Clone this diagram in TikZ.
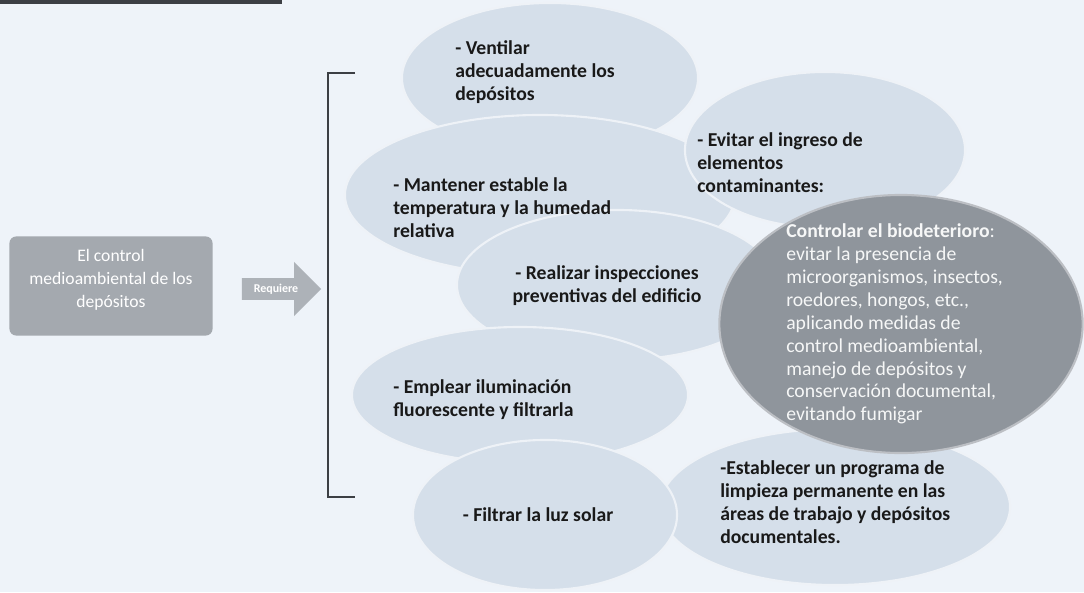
\documentclass[tikz,border=0pt]{standalone}
\usepackage{fontspec}
\setmainfont{Carlito}
\usepackage{tikz}
\usetikzlibrary{shapes.geometric,shapes.arrows,arrows.meta,positioning}
\definecolor{paperbg}{HTML}{EEF3F9}
\definecolor{blobfill}{HTML}{D5DFEA}
\definecolor{bioblob}{HTML}{8F959C}
\definecolor{srcgray}{HTML}{A4A9AF}
\definecolor{reqgray}{HTML}{ADB2B8}
\definecolor{bracketgray}{HTML}{3C3F44}

\begin{document}
\begin{tikzpicture}[
  x=0.025cm, y=-0.025cm,
  every node/.style={font=\fontsize{14}{16.3}\selectfont},
  blob/.style={ellipse, fill=blobfill, draw=white!60!blobfill, line width=1.5pt, inner sep=0pt},
  darkblob/.style={ellipse, fill=bioblob, draw=white!40!bioblob, line width=1.5pt, inner sep=0pt},
  txt/.style={anchor=west, align=left, inner sep=0pt, text=black!90, font=\fontsize{14}{16.3}\selectfont\bfseries},
  srcbox/.style={rectangle, rounded corners=5pt, fill=srcgray, minimum width=5.08cm, minimum height=2.48cm},
  srctxt/.style={text=white, align=center, inner sep=0pt, font=\fontsize{12.5}{16.3}\selectfont},
  reqarrow/.style={single arrow, fill=reqgray, text=white, inner sep=2pt, minimum height=1.98cm, minimum width=1.35cm, single arrow head extend=0.3cm, font=\fontsize{8.5}{9}\selectfont\bfseries},
]
\useasboundingbox[fill=paperbg] (0,0) rectangle (1084,592);

% top edge of the page header
\fill[bracketgray] (0,0) rectangle (282,4);

\node[srcbox] (control) at (111,286) {};
\node[srctxt] (tcontrol) at (111,280) {El control\\medioambiental de los\\depósitos};
\node[reqarrow] (requiere) at (276,289) {Requiere};

% bracket
\draw[bracketgray, line width=1.5pt] (355,73) -- (328,73) -- (328,497) -- (355,497);

% ellipses, back to front
\node[blob, minimum width=7.4cm, minimum height=3.75cm] (ventilar) at (550,78) {};
\node[blob, minimum width=9.75cm, minimum height=4.0cm] (mantener) at (540,195) {};
\node[blob, minimum width=7.0cm, minimum height=3.9cm] (evitar) at (825,150) {};
\node[blob, minimum width=8.0cm, minimum height=3.75cm] (realizar) at (617,285) {};
\node[blob, minimum width=8.4cm, minimum height=3.4cm] (emplear) at (520,395) {};
\node[blob, minimum width=8.75cm, minimum height=3.9cm] (establecer) at (835,507) {};
\node[blob, minimum width=6.6cm, minimum height=3.75cm] (filtrar) at (545,515) {};
\node[darkblob, minimum width=9.08cm, minimum height=6.45cm] (bio) at (901,324) {};

% texts
\node[txt] (tventilar) at (455,72) {- Ventilar\\adecuadamente los\\depósitos};
\node[txt] (tevitar) at (697,163) {- Evitar el ingreso de\\elementos\\contaminantes:};
\node[txt] (tmantener) at (393,208) {- Mantener estable la\\temperatura y la humedad\\relativa};
\node[txt, anchor=center, align=center] (trealizar) at (607,286) {- Realizar inspecciones\\preventivas del edificio};
\node[txt] (templear) at (393,400) {- Emplear iluminación\\fluorescente y filtrarla};
\node[txt, anchor=center] (tfiltrar) at (538,515) {- Filtrar la luz solar};
\node[txt] (testablecer) at (720,502) {-Establecer un programa de\\limpieza permanente en las\\áreas de trabajo y depósitos\\documentales.};
\node[txt, text=white!92!bioblob, font=\fontsize{14}{16.3}\selectfont] (tbio) at (786,324)
  {\textbf{Controlar el biodeterioro}:\\evitar la presencia de\\microorganismos, insectos,\\roedores, hongos, etc.,\\aplicando medidas de\\control medioambiental,\\manejo de depósitos y\\conservación documental,\\evitando fumigar};

\end{tikzpicture}
\end{document}
